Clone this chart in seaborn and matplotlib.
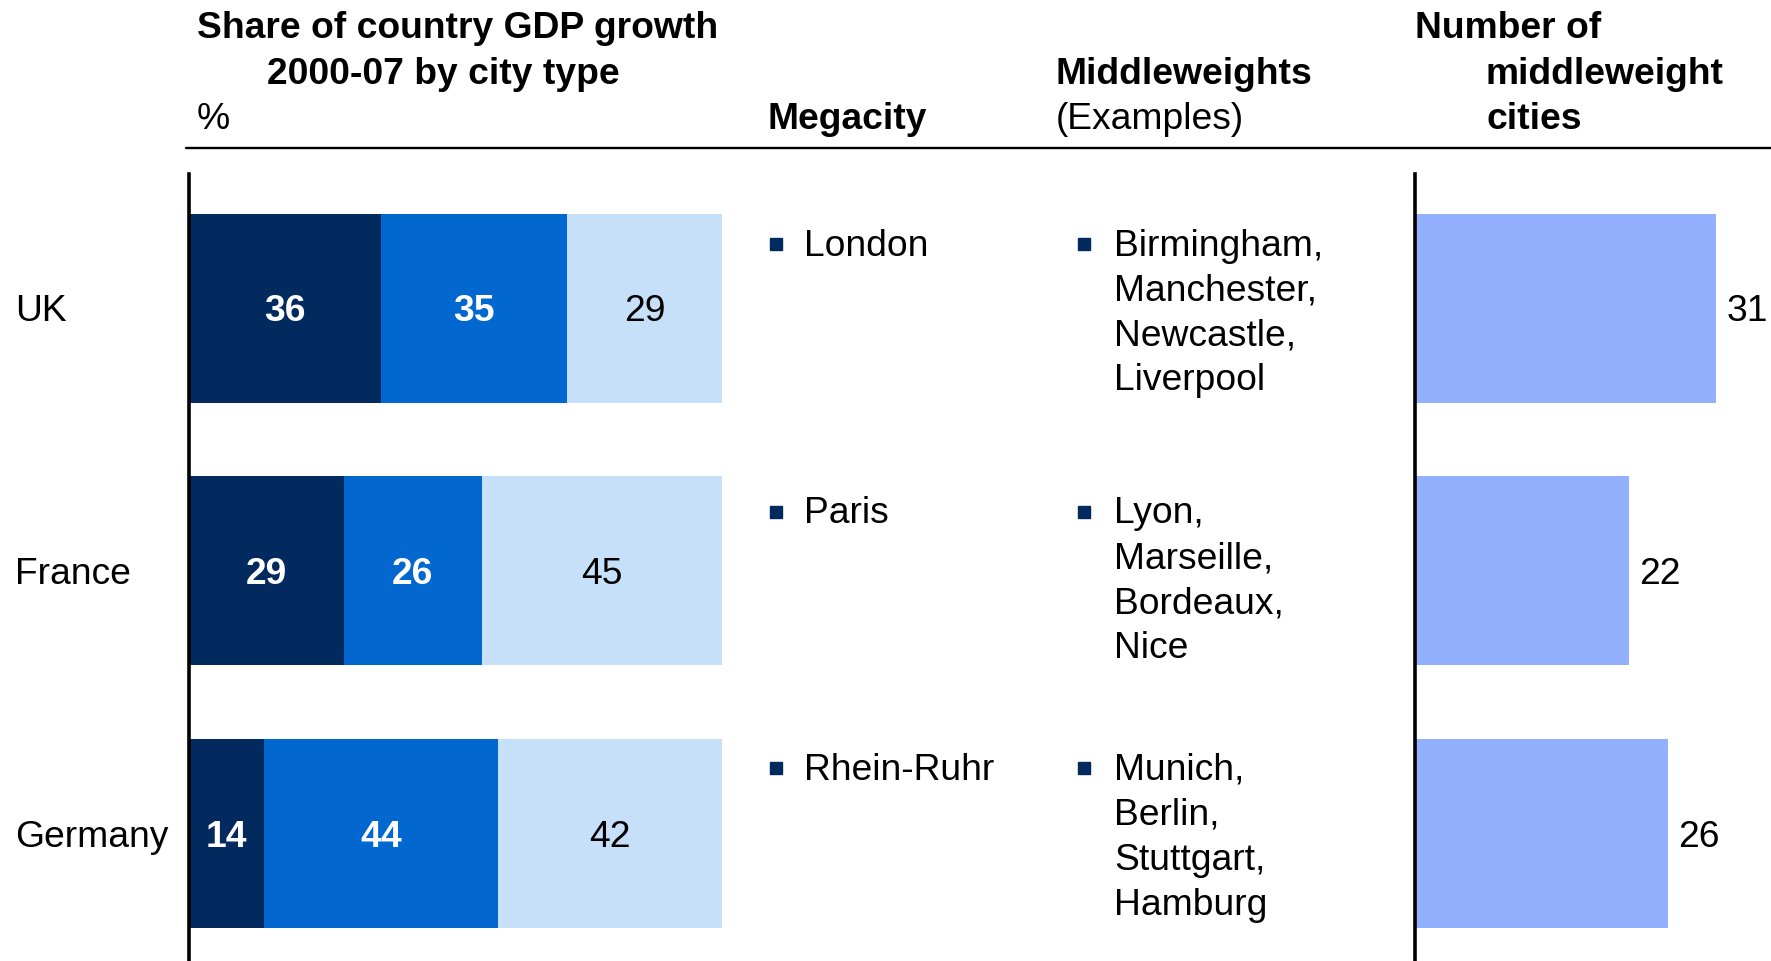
import numpy as np
import pandas as pd
import matplotlib
matplotlib.use('Agg')
import matplotlib.pyplot as plt
import matplotlib.transforms as mtransforms
from matplotlib.lines import Line2D
import seaborn as sns

# ========== data ==========
countries = ['UK', 'France', 'Germany']
megacity_share = [36, 29, 14]
middleweight_share = [35, 26, 44]
other_share = [29, 45, 42]
middleweight_counts = [31, 22, 26]
megacities = ['London', 'Paris', 'Rhein-Ruhr']
middleweight_examples = [
    ['Birmingham,', 'Manchester,', 'Newcastle,', 'Liverpool'],
    ['Lyon,', 'Marseille,', 'Bordeaux,', 'Nice'],
    ['Munich,', 'Berlin,', 'Stuttgart,', 'Hamburg'],
]

# ========== style ==========
c_dark = '#022a5e'
c_mid = '#0367d0'
c_light = '#c7e0f9'
c_count = '#92b0fd'

sns.set_theme(style='white')
plt.rcParams['font.family'] = ['Liberation Sans', 'DejaVu Sans']
plt.rcParams['text.color'] = 'black'
FS = 26.8

W, H = 1771, 962
fig = plt.figure(figsize=(W / 100, H / 100), dpi=100)

df = pd.DataFrame({
    'country': countries,
    'mega': megacity_share,
    'mid': middleweight_share,
    'other': other_share,
    'count': middleweight_counts,
})
df['mid_cum'] = df['mega'] + df['mid']
df['total'] = df['mid_cum'] + df['other']

ylim = (2.485, -0.511)
bar_w = 0.72
ax_h = (H - 175) / H

# ========== stacked share bars ==========
ax = fig.add_axes([189 / W, 0, 533 / W, ax_h])
for col, c in [('total', c_light), ('mid_cum', c_mid), ('mega', c_dark)]:
    sns.barplot(data=df, x=col, y='country', color=c, saturation=1, width=bar_w,
                linewidth=0, errorbar=None, ax=ax)
ax.set_xlim(0, 100)
ax.set_ylim(*ylim)

# text sits a little low in the reference
tdata = mtransforms.offset_copy(ax.transData, fig=fig, y=-2.5, units='dots')
for i, row in df.iterrows():
    segs = [(row['mega'], 0, 'white', 'bold'),
            (row['mid'], row['mega'], 'white', 'bold'),
            (row['other'], row['mid_cum'], 'black', 'normal')]
    for v, left, tc, fw in segs:
        ax.text(left + v / 2, i, f'{v}', ha='center', va='center', transform=tdata,
                color=tc, fontweight=fw, fontsize=FS)

# ========== number of middleweight cities ==========
ax2 = fig.add_axes([1415 / W, 0, 356 / W, ax_h])
sns.barplot(data=df, x='count', y='country', color=c_count, saturation=1, width=bar_w,
            linewidth=0, errorbar=None, ax=ax2)
ax2.set_xlim(0, 356 / 9.72)
ax2.set_ylim(*ylim)
t2 = mtransforms.offset_copy(ax2.transData, fig=fig, x=10, y=-2.5, units='dots')
for i, v in enumerate(middleweight_counts):
    ax2.text(v, i, f'{v}', transform=t2, ha='left', va='center', fontsize=FS)

for a in (ax, ax2):
    sns.despine(ax=a, top=True, right=True, bottom=True, left=False)
    a.spines['left'].set_color('black')
    a.spines['left'].set_linewidth(2.6)
    a.set_xticks([])
    a.set_yticks([])
    a.set_xlabel('')
    a.set_ylabel('')
    a.patch.set_alpha(0)

# ========== country labels and city lists ==========
blend = mtransforms.blended_transform_factory(fig.transFigure, ax.transData)
tblend = mtransforms.offset_copy(blend, fig=fig, y=-2.5, units='dots')
line_step = 45 / 263
first_px = [29, 34, 28]
for i, name in enumerate(countries):
    ax.text(15 / W, i, name, transform=tblend, ha='left', va='center', fontsize=FS)
    y0 = i - bar_w / 2 + first_px[i] / 263
    ax.plot([776 / W], [y0 + 0.005], marker='s', ms=8, color=c_dark, transform=blend, clip_on=False)
    ax.text(804 / W, y0, megacities[i], transform=tblend, ha='left', va='center', fontsize=FS)
    ax.plot([1084 / W], [y0 + 0.005], marker='s', ms=8, color=c_dark, transform=blend, clip_on=False)
    for k, city in enumerate(middleweight_examples[i]):
        ax.text(1114 / W, y0 + k * line_step, city, transform=tblend, ha='left', va='center', fontsize=FS)

# ========== header ==========
def htext(x, y, s, bold=False):
    fig.text(x / W, 1 - y / H, s, ha='left', va='center', fontsize=FS,
             fontweight='bold' if bold else 'normal')

htext(197, 28.5, 'Share of country GDP growth', True)
htext(267, 74.5, '2000-07 by city type', True)
htext(197, 119.5, '%')
htext(768, 119.5, 'Megacity', True)
htext(1056, 74.5, 'Middleweights', True)
htext(1056, 119.5, '(Examples)')
htext(1415, 28.5, 'Number of', True)
htext(1486, 74.5, 'middleweight', True)
htext(1486, 119.5, 'cities', True)

fig.add_artist(Line2D([186 / W, 1], [1 - 149 / H, 1 - 149 / H], color='black', lw=1.7))

fig.savefig('out.png', dpi=100)
